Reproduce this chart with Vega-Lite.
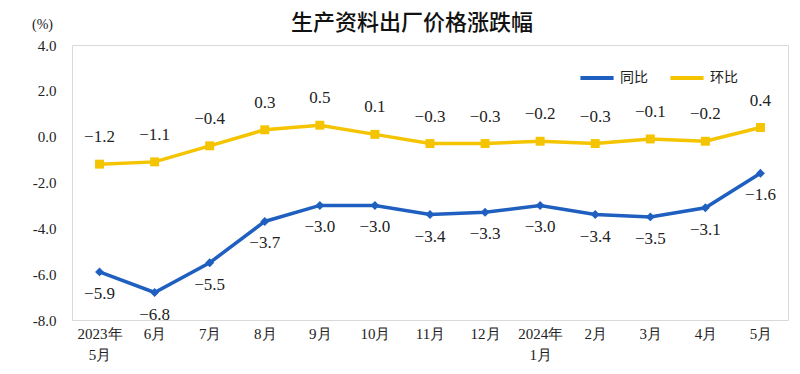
{
  "$schema": "https://vega.github.io/schema/vega-lite/v6.json",
  "width": 716,
  "height": 275,
  "autosize": {"type": "none"},
  "padding": {"left": 72, "top": 45, "right": 12, "bottom": 54},
  "background": "white",
  "title": {"text": "生产资料出厂价格涨跌幅", "fontSize": 22, "font": "Noto Sans CJK SC", "fontWeight": 500, "color": "#111111", "offset": -18, "dx": -18},
  "config": {"view": {"stroke": "#d9d9d9"}},
  "data": {"values": [
    {"month": "2023年|5月", "series": "同比", "value": -5.9},
    {"month": "6月", "series": "同比", "value": -6.8},
    {"month": "7月", "series": "同比", "value": -5.5},
    {"month": "8月", "series": "同比", "value": -3.7},
    {"month": "9月", "series": "同比", "value": -3.0},
    {"month": "10月", "series": "同比", "value": -3.0},
    {"month": "11月", "series": "同比", "value": -3.4},
    {"month": "12月", "series": "同比", "value": -3.3},
    {"month": "2024年|1月", "series": "同比", "value": -3.0},
    {"month": "2月", "series": "同比", "value": -3.4},
    {"month": "3月", "series": "同比", "value": -3.5},
    {"month": "4月", "series": "同比", "value": -3.1},
    {"month": "5月", "series": "同比", "value": -1.6},
    {"month": "2023年|5月", "series": "环比", "value": -1.2},
    {"month": "6月", "series": "环比", "value": -1.1},
    {"month": "7月", "series": "环比", "value": -0.4},
    {"month": "8月", "series": "环比", "value": 0.3},
    {"month": "9月", "series": "环比", "value": 0.5},
    {"month": "10月", "series": "环比", "value": 0.1},
    {"month": "11月", "series": "环比", "value": -0.3},
    {"month": "12月", "series": "环比", "value": -0.3},
    {"month": "2024年|1月", "series": "环比", "value": -0.2},
    {"month": "2月", "series": "环比", "value": -0.3},
    {"month": "3月", "series": "环比", "value": -0.1},
    {"month": "4月", "series": "环比", "value": -0.2},
    {"month": "5月", "series": "环比", "value": 0.4}
  ]},
  "encoding": {
    "x": {
      "field": "month", "type": "ordinal", "sort": null,
      "scale": {"type": "point", "padding": 0.5},
      "axis": {"title": null, "labelAngle": 0, "ticks": false, "domain": false, "grid": false,
        "labelExpr": "split(datum.value, '|')", "labelFont": "Liberation Serif", "labelFontSize": 15,
        "labelColor": "#222222", "labelPadding": 6, "labelLineHeight": 21}
    },
    "y": {
      "field": "value", "type": "quantitative",
      "scale": {"domain": [-8, 4]},
      "axis": {"values": [-8, -6, -4, -2, 0, 2, 4], "grid": false, "ticks": false, "domain": false,
        "labelExpr": "replace(format(datum.value, '.1f'), '\u2212', '-')",
        "labelFont": "Liberation Serif", "labelFontSize": 15, "labelColor": "#222222", "labelPadding": 16,
        "title": "(%)", "titleAngle": 0, "titleX": -30, "titleY": -14, "titleFont": "Liberation Serif",
        "titleFontSize": 14, "titleFontWeight": "normal", "titleColor": "#222222", "titleAlign": "center"}
    }
  },
  "layer": [
    {
      "mark": {"type": "line", "strokeWidth": 3.5},
      "encoding": {
        "color": {"field": "series", "type": "nominal", "sort": null,
          "scale": {"domain": ["同比", "环比"], "range": ["#1F5FBF", "#F5C400"]},
          "legend": {"title": null, "orient": "none", "legendX": 506, "legendY": 14, "direction": "horizontal",
            "symbolType": "stroke", "symbolStrokeWidth": 4, "symbolSize": 1100, "labelFont": "Noto Sans CJK SC",
            "labelFontSize": 14, "labelColor": "#222222", "columnPadding": 14, "labelOffset": 4}}
      }
    },
    {
      "transform": [{"filter": "datum.series === '同比'"}],
      "mark": {"type": "point", "filled": true, "opacity": 1, "size": 80, "shape": "diamond", "color": "#1F5FBF"},
      "encoding": {}
    },
    {
      "transform": [{"filter": "datum.series === '环比'"}],
      "mark": {"type": "point", "filled": true, "opacity": 1, "size": 80, "shape": "square", "color": "#F5C400"},
      "encoding": {}
    },
    {
      "transform": [{"filter": "datum.series === '同比'"}],
      "mark": {"type": "text", "dy": 22, "font": "Liberation Serif", "fontSize": 17, "color": "#222222"},
      "encoding": {"text": {"field": "value", "type": "quantitative", "format": ".1f"}}
    },
    {
      "transform": [{"filter": "datum.series === '环比'"}],
      "mark": {"type": "text", "dy": -27, "font": "Liberation Serif", "fontSize": 17, "color": "#222222"},
      "encoding": {"text": {"field": "value", "type": "quantitative", "format": ".1f"}}
    }
  ]
}
